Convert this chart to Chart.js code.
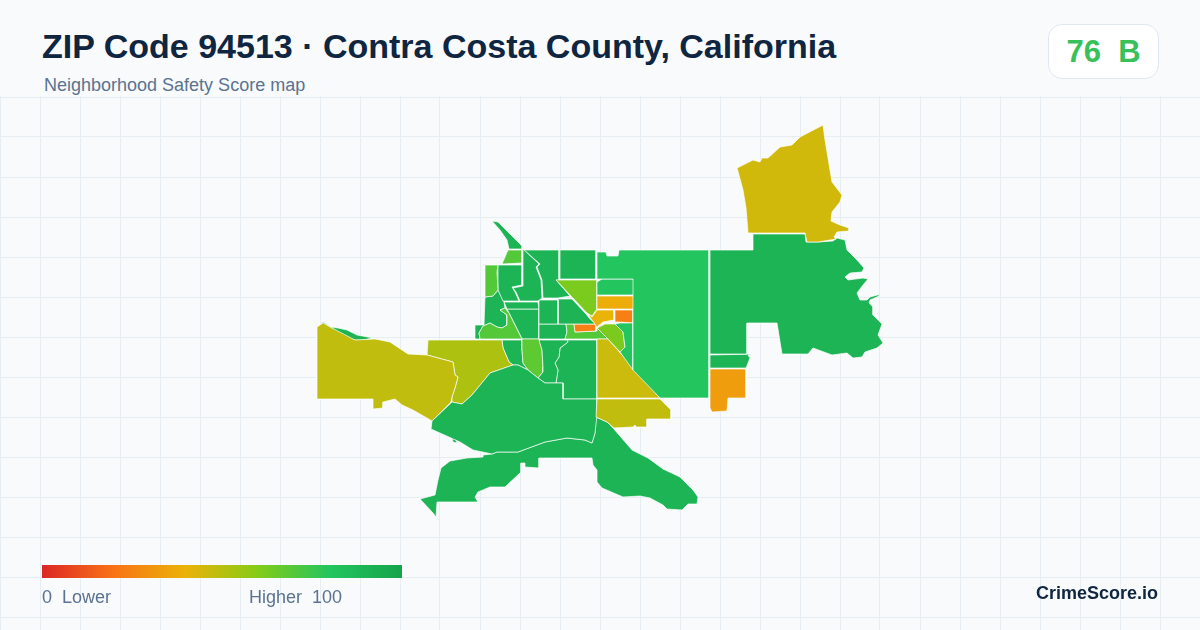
<!DOCTYPE html>
<html lang="en">
<head>
<meta charset="utf-8">
<title>ZIP Code 94513 Safety Score map</title>
<script src="https://cdn.jsdelivr.net/npm/chart.js@4/dist/chart.umd.min.js"></script>
<style>
  html, body { margin: 0; padding: 0; }
  body { width: 1200px; height: 630px; position: relative; overflow: hidden; background: #f8fafc;
         font-family: "Liberation Sans", Arial, sans-serif; }
  #mapWrap { position: absolute; left: 0; top: 96px; width: 1200px; height: 534px; }
  .txt { position: absolute; white-space: pre; }
  #title { left: 42px; top: 25px; font-size: 34px; line-height: 42px; font-weight: 700; color: #0f2540; }
  #subtitle { left: 44px; top: 75px; font-size: 18px; line-height: 20px; color: #5b7390; }
  #badge { position: absolute; left: 1048px; top: 24px; width: 109px; height: 53px; background: #fff;
           border: 1px solid #e2e8f0; border-radius: 14px; box-sizing: content-box;
           font-size: 31px; line-height: 53px; font-weight: 700; color: #38c15a; text-align: center; white-space: pre; }
  #scaleBar { position: absolute; left: 42px; top: 565px; width: 360px; height: 13px; }
  .scaleText { top: 587px; font-size: 18px; line-height: 20px; color: #5b7390; }
  #brand { right: 42px; top: 583px; font-size: 18px; line-height: 20px; font-weight: 700; color: #0f2540; }
</style>
</head>
<body>
<div id="mapWrap"><canvas id="mapChart" width="1200" height="534"></canvas></div>
<div class="txt" id="title">ZIP Code 94513 · Contra Costa County, California</div>
<div class="txt" id="subtitle">Neighborhood Safety Score map</div>
<div id="badge">76  B</div>
<div id="scaleBar"></div>
<div class="txt scaleText" style="left:42px">0  Lower</div>
<div class="txt scaleText" style="left:249px">Higher  100</div>
<div class="txt" id="brand">CrimeScore.io</div>

<script>
// Escala de cores do score (0 a 100)
const scaleStops = ['#dc2626', '#f97316', '#eab308', '#84cc16', '#22c55e', '#16a34a'];

// Contornos das areas
const northHills = [[737,168],[753,160],[760,162],[762,158],[768,158],[780,147],[792,145],[800,137],[823,125],[825,140],[832,182],[842,195],[840,202],[832,212],[831,221],[840,225],[849,228],[849,231],[837,232],[834,237],[836,239],[818,242],[807,242],[805,233],[753,233],[748,233],[746,208],[743,190]];
const eastDelta = [[753,234],[805,234],[806,242],[818,242],[833,241],[837,238],[845,240],[847,250],[857,260],[864,268],[862,272],[850,273],[845,277],[848,280],[863,278],[868,279],[863,285],[857,293],[860,300],[867,300],[870,297],[881,294],[877,297],[870,300],[869,303],[873,307],[873,315],[882,324],[878,335],[883,343],[877,348],[865,352],[862,357],[853,358],[847,353],[832,355],[813,348],[808,354],[782,354],[777,323],[747,323],[747,354],[710,354],[710,250],[753,250]];
const eastStrip = [[710,355],[756,354],[748,355],[750,358],[746,368],[710,368]];
const eastAmber = [[710,369],[746,369],[746,398],[728,398],[727,411],[712,412],[710,408]];
const farmland = [[597,252],[606,252],[607,256],[618,256],[619,250],[709,250],[709,398],[660,398],[633,370],[633,279],[597,279]];
const farmSouth = [[620,323],[633,323],[633,370],[620,352],[625,347],[623,332],[615,324]];
const farmNorth = [[597,282],[602,279],[634,279],[634,295],[597,295]];
const goldBlock = [[597,296],[634,296],[634,309],[597,309]];
const orangeBlock = [[615,310],[633,310],[633,323],[620,322],[615,322]];
const goldCorner = [[587,313],[592,317],[597,310],[614,310],[614,320],[603,322],[597,327]];
const limeEast = [[597,328],[605,324],[615,324],[623,332],[625,347],[620,352],[608,339]];
const limeTriangle = [[556,280],[597,280],[597,309],[592,316],[587,313]];
const oliveTriangle = [[597,339],[608,339],[660,398],[597,398]];
const oliveSouth = [[597,399],[660,399],[663,402],[671,410],[671,419],[647,419],[647,427],[636,427],[635,425],[633,427],[614,428],[607,422],[596,417]];
const hillsNorth = [[431,429],[432,421],[452,402],[462,404],[472,395],[490,373],[513,365],[518,365],[528,370],[538,378],[545,383],[563,383],[563,399],[597,399],[597,415],[595,433],[592,443],[585,440],[567,438],[545,442],[518,452],[497,452],[492,454],[473,450],[460,442]];
const hillsBit = [[452,438],[457,441],[457,443],[453,442]];
const hillsSouth = [[483,455],[492,454],[497,452],[518,452],[545,442],[567,438],[585,440],[592,443],[595,433],[596,417],[607,422],[613,428],[632,450],[648,458],[663,469],[680,477],[693,490],[698,497],[697,504],[688,504],[682,510],[667,509],[663,505],[650,498],[640,496],[623,497],[602,488],[597,482],[597,470],[593,465],[592,458],[539,458],[539,468],[525,467],[525,463],[521,463],[521,472],[505,487],[490,487],[478,492],[475,497],[478,502],[437,502],[436,517],[433,513],[420,499],[435,495],[438,480],[441,468],[450,461],[467,458],[483,457]];
const westOlive = [[317,327],[323,323],[332,328],[355,340],[375,339],[390,342],[408,354],[427,355],[453,362],[455,375],[458,377],[455,388],[452,397],[451,402],[432,421],[413,410],[402,405],[395,399],[383,402],[383,408],[373,409],[373,399],[317,399]];
const westSliver = [[321,323],[323,322],[331,327],[338,328],[347,330],[357,335],[373,338],[363,340],[355,340],[343,336],[332,328]];
const westLime = [[428,340],[502,340],[503,348],[509,362],[513,365],[490,373],[472,395],[462,404],[452,402],[452,397],[455,388],[458,377],[455,375],[453,362],[427,355]];
const northTip = [[492,221],[498,222],[522,246],[522,249],[509,249],[507,240],[500,230]];
const midNorth = [[508,250],[522,250],[522,263],[502,264],[505,257]];
const midWest = [[485,265],[498,265],[497,272],[498,290],[493,296],[485,297]];
const tractA = [[498,265],[522,265],[522,285],[512,287],[515,292],[519,301],[503,301],[498,290]];
const tractB = [[523,249],[539,264],[536,267],[541,280],[542,298],[538,301],[520,301],[516,292],[513,288],[523,286]];
const tractC = [[524,250],[559,250],[559,280],[556,280],[570,296],[558,298],[543,298],[542,280],[537,267],[540,264]];
const tractD = [[560,250],[596,250],[596,279],[560,279]];
const tractE = [[539,300],[558,300],[558,324],[539,324]];
const tractF = [[558,299],[572,299],[586,314],[590,319],[596,324],[566,324],[558,324]];
const orangeStrip = [[574,324],[596,324],[596,331],[575,332]];
const midCenter = [[566,324],[574,324],[575,332],[597,331],[597,328],[608,339],[565,339],[567,332]];
const tractG = [[539,324],[566,324],[567,332],[565,339],[539,339]];
const tractH = [[539,340],[567,340],[568,342],[560,348],[559,357],[555,363],[558,370],[556,383],[545,383],[538,378],[543,372],[543,367],[542,350]];
const tractI = [[567,340],[597,340],[597,399],[563,399],[563,383],[556,383],[558,370],[555,363],[559,357],[560,348],[568,342]];
const midStripe = [[522,339],[539,339],[542,350],[543,367],[543,372],[538,378],[528,370],[523,363],[522,350]];
const tractJ = [[502,340],[522,340],[522,350],[523,363],[528,370],[518,365],[513,365],[509,362],[503,348]];
const midWestRow = [[480,339],[479,333],[483,326],[490,323],[497,327],[502,328],[507,325],[507,315],[500,310],[505,308],[509,313],[514,323],[522,339]];
const tractK = [[485,297],[493,296],[498,290],[504,302],[505,308],[500,310],[507,315],[507,325],[502,328],[497,327],[490,323],[483,326],[479,333],[480,339],[475,339],[475,325],[484,325]];
const tractL = [[504,302],[538,302],[539,309],[507,309]];
const tractM = [[507,309],[539,309],[539,339],[522,339],[510,315]];

const regionShapes = [northHills, eastDelta, eastStrip, eastAmber, farmland, farmSouth, farmNorth, goldBlock, orangeBlock, goldCorner, limeEast, limeTriangle, oliveTriangle, oliveSouth, hillsNorth, hillsBit, hillsSouth, westOlive, westSliver, westLime, northTip, midNorth, midWest, tractA, tractB, tractC, tractD, tractE, tractF, orangeStrip, midCenter, tractG, tractH, tractI, midStripe, tractJ, midWestRow, tractK, tractL, tractM];
const regionScores = [45, 90, 90, 33, 80, 80, 80, 38, 24, 40, 62, 62, 46, 48, 90, 90, 90, 48, 90, 52, 90, 70, 70, 90, 90, 90, 90, 90, 90, 24, 70, 90, 90, 90, 68, 90, 70, 90, 90, 90];

// Linhas da grade do fundo
const gridRows = [97, 137, 177, 217, 257, 297, 337, 377, 417, 457, 497, 537, 577, 617];

function hexToRgb(hex) {
  return [1, 3, 5].map(i => parseInt(hex.slice(i, i + 2), 16));
}

// Cor do score por interpolacao na escala
function scoreColor(score) {
  const pos = score / 100 * (scaleStops.length - 1);
  const i = Math.min(Math.floor(pos), scaleStops.length - 2);
  const a = hexToRgb(scaleStops[i]);
  const b = hexToRgb(scaleStops[i + 1]);
  const c = a.map((v, k) => Math.round(v + (b[k] - v) * (pos - i)));
  return `rgb(${c[0]},${c[1]},${c[2]})`;
}

document.getElementById('scaleBar').style.background =
  `linear-gradient(to right, ${scaleStops.join(', ')})`;

new Chart(document.getElementById('mapChart'), {
  type: 'scatter',
  data: {
    datasets: regionShapes.map((shape, i) => ({
      label: 'area ' + (i + 1),
      data: shape.concat([shape[0]]).map(p => ({ x: p[0], y: p[1] })),
      showLine: true,
      fill: 'shape',
      backgroundColor: scoreColor(regionScores[i]),
      borderColor: 'rgba(255,255,255,0.85)',
      borderWidth: 0.8,
      pointRadius: 0,
      tension: 0
    }))
  },
  options: {
    responsive: false,
    animation: false,
    layout: { padding: 0 },
    plugins: {
      legend: { display: false },
      tooltip: { enabled: false }
    },
    scales: {
      x: {
        type: 'linear',
        min: 0,
        max: 1200,
        ticks: { display: false, stepSize: 40 },
        grid: { color: '#e6eef3', lineWidth: 1, drawTicks: false },
        border: { display: false }
      },
      y: {
        type: 'linear',
        reverse: true,
        min: 96,
        max: 630,
        afterBuildTicks: axis => { axis.ticks = gridRows.map(v => ({ value: v })); },
        ticks: { display: false },
        grid: { color: '#e6eef3', lineWidth: 1, drawTicks: false },
        border: { display: false }
      }
    }
  }
});
</script>
</body>
</html>
